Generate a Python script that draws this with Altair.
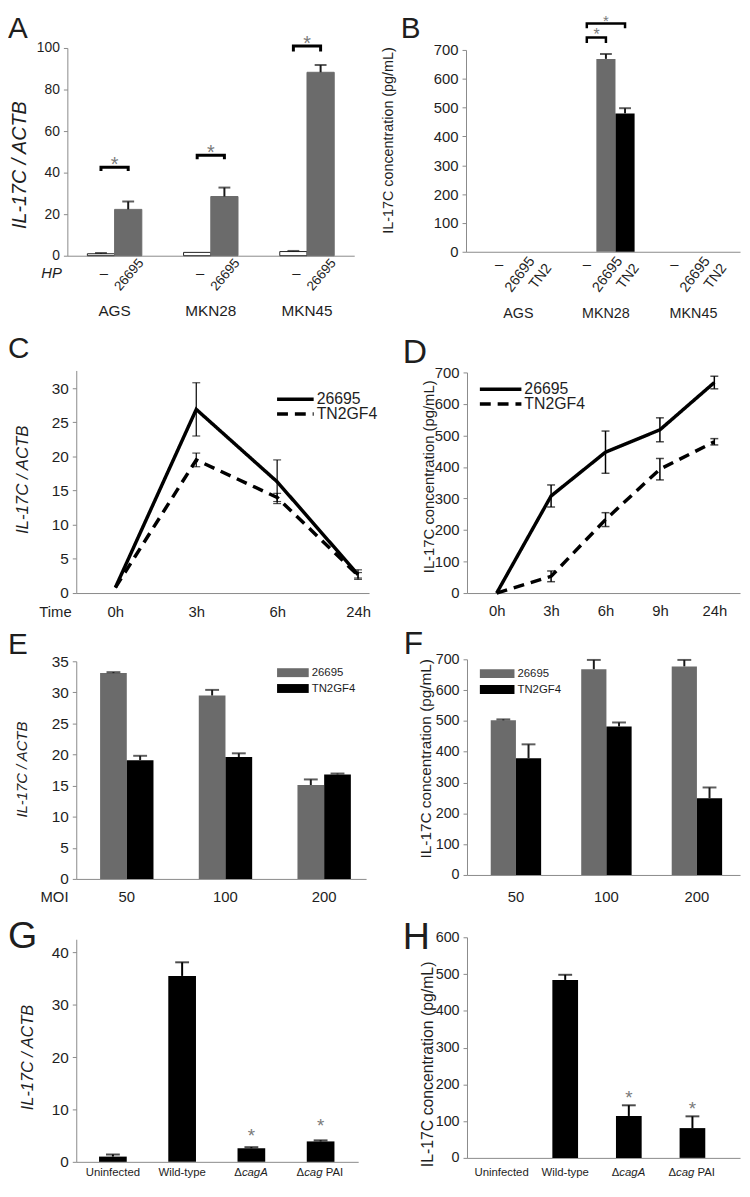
import altair as alt
import pandas as pd

FONT = "Liberation Sans"
AXC = "#8a8a8a"
TXT = "#1e1e1e"
GRAY = "#6b6b6b"
STARC = "#7a7a7a"
W, H = 742, 1177

# ---------------- data ----------------
# A
a_cells = ["AGS", "MKN28", "MKN45"]
a_hp = ["–", "26695"]
a_mock = [0.95, 1.6, 2.0]
a_mock_err = [0.35, 0.0, 0.3]
a_inf = [22.3, 28.5, 88.3]
a_inf_err = [3.8, 4.3, 3.5]
a_br_top = [42.6, 48.4, 100.9]
a_br_leg = [40.8, 46.4, 98.3]
a_star = [46.1, 51.9, 104.1]

# B
b_cells = ["AGS", "MKN28", "MKN45"]
b_strains = ["–", "26695", "TN2"]
b_mock = [0, 0, 0]
b_wt = [0, 669, 0]
b_wt_err = [0, 17, 0]
b_tn = [0, 480, 0]
b_tn_err = [0, 18, 0]
b_br_to = ["26695", "TN2"]
b_br_top = [743, 792]
b_br_leg = [724, 775]
b_star = [766, 813]

# C
c_times = ["0h", "3h", "6h", "24h"]
c_strains = ["26695", "TN2GF4"]
c_wt = [0.8, 26.9, 16.3, 2.7]
c_wt_err = [0, 3.9, 3.2, 0.7]
c_tn = [0.8, 19.5, 14.0, 2.6]
c_tn_err = [0, 1.0, 0.6, 0.4]

# D
d_times = ["0h", "3h", "6h", "9h", "24h"]
d_wt = [0, 308, 447, 518, 668]
d_wt_err = [0, 35, 67, 38, 20]
d_tn = [0, 53, 233, 393, 480]
d_tn_err = [0, 17, 22, 34, 10]

# E
e_moi = ["50", "100", "200"]
e_wt = [33.1, 29.5, 15.1]
e_wt_err = [0.15, 0.9, 0.9]
e_tn = [19.1, 19.6, 16.8]
e_tn_err = [0.7, 0.6, 0.15]

# F
f_moi = ["50", "100", "200"]
f_wt = [502, 668, 677]
f_wt_err = [3, 30, 21]
f_tn = [379, 482, 249]
f_tn_err = [45, 13, 35]

# G / H
g_strains = ["Uninfected", "Wild-type", "ΔcagA", "Δcag PAI"]
g_val = [1.0, 35.5, 2.6, 3.9]
g_err = [0.4, 2.6, 0.2, 0.2]
g_star = [5.8, 7.7]
h_val = [0, 484, 114, 81]
h_err = [0, 14, 29, 32]
h_star = [177, 145]
star_at = ["ΔcagA", "Δcag PAI"]


# ---------------- helpers ----------------
def yaxis(x_px, values, title, tsize, italic, tx, ty, lsize):
    return alt.Axis(orient="left", offset=-x_px, values=values, title=title,
                    titleFont=FONT, titleFontSize=tsize,
                    titleFontStyle="italic" if italic else "normal",
                    titleFontWeight="normal", titleColor=TXT, titleAngle=270,
                    titleAlign="center", titleBaseline="middle", titleX=tx, titleY=ty,
                    labelFont=FONT, labelFontSize=lsize, labelColor=TXT, labelPadding=4,
                    tickSize=4, tickColor=AXC, domainColor=AXC, grid=False,
                    labelFlush=False, labelOverlap=False)


def xaxis(y_px, pad, lsize, expr=None):
    kw = dict(orient="bottom", offset=y_px - H, ticks=False, title=None,
              labelFont=FONT, labelFontSize=lsize, labelColor=TXT, labelPadding=pad,
              labelBaseline="middle", labelAngle=0, domainColor=AXC, grid=False,
              labelFlush=False, labelOverlap=False)
    if expr:
        kw["labelExpr"] = expr
    return alt.Axis(**kw)


def note(text, x, y, size, align="left", baseline="alphabetic", style="normal", color=TXT, angle=0):
    kw = dict(font=FONT, fontSize=size, align=align, baseline=baseline, fontStyle=style, color=color)
    if angle:
        kw["angle"] = angle
    return alt.Chart(pd.DataFrame({"t": [text]})).mark_text(**kw).encode(
        text="t:N", x=alt.value(x), y=alt.value(y))


def legend_line(x1, x2, y, dash):
    return alt.Chart(pd.DataFrame({"k": [0]})).mark_rule(strokeWidth=3.5, color="black", strokeDash=dash).encode(
        x=alt.value(x1), x2=alt.value(x2), y=alt.value(y))


def legend_box(x1, x2, y1, y2, color):
    return alt.Chart(pd.DataFrame({"k": [0]})).mark_rect(color=color).encode(
        x=alt.value(x1), x2=alt.value(x2), y=alt.value(y1), y2=alt.value(y2))


def grouped(groups, series, vals, errs):
    rows = []
    for i, g in enumerate(groups):
        for j, s in enumerate(series):
            rows.append({"g": g, "s": s, "val": vals[j][i], "err": errs[j][i]})
    df = pd.DataFrame(rows)
    df["hi"] = df["val"] + df["err"]
    return df


def err_layers(df, width=2, cap=12):
    d = df[df["err"] > 0]
    r = alt.Chart(d).mark_rule(strokeWidth=width, color="#1a1a1a").encode(
        x="g:N", xOffset="s:N", y="val:Q", y2="hi:Q")
    t = alt.Chart(d).mark_tick(size=cap, thickness=width, color="#1a1a1a").encode(
        x="g:N", xOffset="s:N", y="hi:Q")
    return [r, t]


layers = []

# ---------------- Panel A ----------------
dfA = grouped(a_cells, a_hp, [a_mock, a_inf], [a_mock_err, a_inf_err])
barsA = alt.Chart(dfA).mark_bar(strokeWidth=1).encode(
    x=alt.X("g:N", scale=alt.Scale(type="band", domain=a_cells, range=[60, 350],
                                   paddingInner=0.434, paddingOuter=0.208),
            axis=xaxis(244, 55, 15.5)),
    xOffset=alt.XOffset("s:N", scale=alt.Scale(domain=a_hp, paddingInner=0, paddingOuter=0)),
    y=alt.Y("val:Q", scale=alt.Scale(domain=[0, 100], range=[244, 34], nice=False),
            axis=yaxis(60, [0, 20, 40, 60, 80, 100], "IL-17C / ACTB", 20, True, -48, 152, 14)),
    fill=alt.Fill("s:N", scale=alt.Scale(domain=a_hp, range=["white", GRAY]), legend=None),
    stroke=alt.Stroke("s:N", scale=alt.Scale(domain=a_hp, range=["#222222", GRAY]), legend=None),
)
brA_rows = []
for i, c in enumerate(a_cells):
    brA_rows += [{"g": c, "s": a_hp[0], "v": a_br_leg[i], "o": 0},
                 {"g": c, "s": a_hp[0], "v": a_br_top[i], "o": 1},
                 {"g": c, "s": a_hp[1], "v": a_br_top[i], "o": 2},
                 {"g": c, "s": a_hp[1], "v": a_br_leg[i], "o": 3}]
brA = alt.Chart(pd.DataFrame(brA_rows)).mark_line(strokeWidth=3, color="black").encode(
    x="g:N", xOffset="s:N", y="v:Q", detail="g:N", order="o:Q")
starA = alt.Chart(pd.DataFrame({"g": a_cells, "v": a_star})).mark_text(
    text="*", font=FONT, fontSize=20, color=STARC, baseline="middle", dy=5).encode(x="g:N", y="v:Q")
dashA = alt.Chart(dfA[dfA["s"] == a_hp[0]]).mark_text(
    text="–", font=FONT, fontSize=15, color=TXT, baseline="middle", dx=3).encode(
    x="g:N", xOffset="s:N", y=alt.value(262))
rotA = alt.Chart(dfA[dfA["s"] == a_hp[1]]).mark_text(
    text="26695", font=FONT, fontSize=13.5, color=TXT, align="right", baseline="middle",
    angle=310, dx=8.4, dy=10).encode(x="g:N", xOffset="s:N", y=alt.value(249))
layers.append(alt.layer(barsA, *err_layers(dfA), brA, starA, dashA, rotA))
layers.append(note("A", 0, 24, 30))
layers.append(note("HP", 44, 262, 15, align="center", baseline="middle", style="italic"))

# ---------------- Panel B ----------------
dfB = grouped(b_cells, b_strains, [b_mock, b_wt, b_tn], [[0, 0, 0], b_wt_err, b_tn_err])
barsB = alt.Chart(dfB).mark_bar().encode(
    x=alt.X("g:N", scale=alt.Scale(type="band", domain=b_cells, range=[463, 740],
                                   paddingInner=0.345, paddingOuter=0.237, align=0.57),
            axis=xaxis(240, 62, 14.5)),
    xOffset=alt.XOffset("s:N", scale=alt.Scale(domain=b_strains, paddingInner=0, paddingOuter=0)),
    y=alt.Y("val:Q", scale=alt.Scale(domain=[0, 700], range=[240, 36], nice=False),
            axis=yaxis(463, list(range(0, 701, 100)), "IL-17C concentration (pg/mL)",
                       14.5, False, -78, 127, 15)),
    fill=alt.Fill("s:N", scale=alt.Scale(domain=b_strains, range=["white", GRAY, "black"]), legend=None),
)
brB_rows = []
for j, to in enumerate(b_br_to):
    brB_rows += [{"g": "MKN28", "s": "–", "v": b_br_leg[j], "o": 0, "k": j},
                 {"g": "MKN28", "s": "–", "v": b_br_top[j], "o": 1, "k": j},
                 {"g": "MKN28", "s": to, "v": b_br_top[j], "o": 2, "k": j},
                 {"g": "MKN28", "s": to, "v": b_br_leg[j], "o": 3, "k": j}]
brB = alt.Chart(pd.DataFrame(brB_rows)).mark_line(strokeWidth=2.5, color="black").encode(
    x="g:N", xOffset="s:N", y="v:Q", detail="k:N", order="o:Q")
starB1 = alt.Chart(pd.DataFrame({"g": ["MKN28"], "s": ["–"], "v": [b_star[0]]})).mark_text(
    text="*", font=FONT, fontSize=16, color=STARC, baseline="middle", dy=4, dx=10).encode(
    x="g:N", xOffset="s:N", y="v:Q")
starB2 = alt.Chart(pd.DataFrame({"g": ["MKN28"], "s": ["26695"], "v": [b_star[1]]})).mark_text(
    text="*", font=FONT, fontSize=15, color=STARC, baseline="middle", dy=4).encode(
    x="g:N", xOffset="s:N", y="v:Q")
dashB = alt.Chart(dfB[dfB["s"] == "–"]).mark_text(
    text="–", font=FONT, fontSize=15, color=TXT, baseline="middle").encode(
    x="g:N", xOffset="s:N", y=alt.value(252))
rotB1 = alt.Chart(dfB[dfB["s"] == "26695"]).mark_text(
    text="26695", font=FONT, fontSize=14.5, color=TXT, align="right", baseline="middle",
    angle=307, dx=8.4, dy=11.2).encode(x="g:N", xOffset="s:N", y=alt.value(247))
rotB2 = alt.Chart(dfB[dfB["s"] == "TN2"]).mark_text(
    text="TN2", font=FONT, fontSize=14.5, color=TXT, align="right", baseline="middle",
    angle=307, dx=6.9, dy=9.2).encode(x="g:N", xOffset="s:N", y=alt.value(254))
layers.append(alt.layer(barsB, *err_layers(dfB), brB, starB1, starB2, dashB, rotB1, rotB2))
layers.append(note("B", 397, 24, 30))


# ---------------- line panels C / D ----------------
def line_panel(times, wt, wt_err, tn, tn_err, xrange, pad, align, yscale, yax, xax, ew):
    rows = []
    for i, t in enumerate(times):
        rows.append({"t": t, "i": i, "s": c_strains[0], "val": wt[i], "err": wt_err[i]})
        rows.append({"t": t, "i": i, "s": c_strains[1], "val": tn[i], "err": tn_err[i]})
    df = pd.DataFrame(rows)
    df["lo"] = df["val"] - df["err"]
    df["hi"] = df["val"] + df["err"]
    line = alt.Chart(df).mark_line(strokeWidth=3.5, color="black").encode(
        x=alt.X("t:N", scale=alt.Scale(type="point", domain=times, range=xrange, padding=pad, align=align),
                axis=xax),
        y=alt.Y("val:Q", scale=yscale, axis=yax),
        strokeDash=alt.StrokeDash("s:N", scale=alt.Scale(domain=c_strains, range=[[1, 0], [11, 7]]), legend=None),
        detail="s:N", order="i:Q")
    d = df[df["err"] > 0]
    er = alt.Chart(d).mark_rule(strokeWidth=ew, color="black").encode(x="t:N", y="lo:Q", y2="hi:Q")
    c1 = alt.Chart(d).mark_tick(size=8, thickness=ew, color="black").encode(x="t:N", y="lo:Q")
    c2 = alt.Chart(d).mark_tick(size=8, thickness=ew, color="black").encode(x="t:N", y="hi:Q")
    return alt.layer(line, er, c1, c2)


layers.append(line_panel(
    c_times, c_wt, c_wt_err, c_tn, c_tn_err, [69, 365], 0.31, 0.78,
    alt.Scale(domain=[0, 32.6], range=[585, 360], nice=False),
    yaxis(69, [0, 5, 10, 15, 20, 25, 30], "IL-17C / ACTB", 17, True, -54, 470, 15.5),
    xaxis(585, 19, 15), 1.2))
layers.append(note("C", 0, 347, 30))
layers.append(note("Time", 48, 604, 15, align="center", baseline="middle"))
layers.append(legend_line(272, 309, 389, [1, 0]))
layers.append(legend_line(272, 309, 404, [11, 7]))
layers.append(note("26695", 312, 389, 16, baseline="middle"))
layers.append(note("TN2GF4", 312, 404, 16, baseline="middle"))

layers.append(line_panel(
    d_times, d_wt, d_wt_err, d_tn, d_tn_err, [464, 740], 0.509, 0.536,
    alt.Scale(domain=[0, 700], range=[585, 362], nice=False),
    yaxis(464, list(range(0, 701, 100)), "IL-17C concentration (pg/mL)", 15, False, -39, 467, 15),
    xaxis(585, 18, 15), 1.5))
layers.append(note("D", 399, 352, 34))
layers.append(legend_line(477, 519, 379, [1, 0]))
layers.append(legend_line(477, 519, 394, [11, 7]))
layers.append(note("26695", 522, 379, 16, baseline="middle"))
layers.append(note("TN2GF4", 522, 394, 16, baseline="middle"))


# ---------------- bar panels E / F ----------------
def pair_panel(groups, wt, wt_err, tn, tn_err, xrange, pi, po, al, yscale, yax, xax):
    df = grouped(groups, c_strains, [wt, tn], [wt_err, tn_err])
    bars = alt.Chart(df).mark_bar().encode(
        x=alt.X("g:N", scale=alt.Scale(type="band", domain=groups, range=xrange,
                                       paddingInner=pi, paddingOuter=po, align=al), axis=xax),
        xOffset=alt.XOffset("s:N", scale=alt.Scale(domain=c_strains, paddingInner=0, paddingOuter=0)),
        y=alt.Y("val:Q", scale=yscale, axis=yax),
        fill=alt.Fill("s:N", scale=alt.Scale(domain=c_strains, range=[GRAY, "black"]), legend=None))
    return alt.layer(bars, *err_layers(df, 2, 14))


layers.append(pair_panel(
    e_moi, e_wt, e_wt_err, e_tn, e_tn_err, [69, 362], 0.459, 0.198, 0.61,
    alt.Scale(domain=[0, 35], range=[874, 654], nice=False),
    yaxis(69, list(range(0, 36, 5)), "IL-17C / ACTB", 15, True, -55, 763, 15.5),
    xaxis(874, 18, 15)))
layers.append(note("E", 0, 647, 30))
layers.append(note("MOI", 47, 892, 15, align="center", baseline="middle"))
layers.append(legend_box(272, 304, 661, 670, GRAY))
layers.append(legend_box(272, 304, 677, 686, "black"))
layers.append(note("26695", 307, 666, 11.5, baseline="middle"))
layers.append(note("TN2GF4", 307, 682, 11.5, baseline="middle"))

layers.append(pair_panel(
    f_moi, f_wt, f_wt_err, f_tn, f_tn_err, [464, 740], 0.443, 0.23, 0.57,
    alt.Scale(domain=[0, 700], range=[870, 652], nice=False),
    yaxis(464, list(range(0, 701, 100)), "IL-17C concentration (pg/mL)", 15.5, False, -42, 752, 14.5),
    xaxis(870, 22, 15)))
layers.append(note("F", 400, 647, 32))
layers.append(legend_box(477, 512, 662, 671, GRAY))
layers.append(legend_box(477, 512, 678, 687, "black"))
layers.append(note("26695", 515, 667, 11.5, baseline="middle"))
layers.append(note("TN2GF4", 515, 683, 11.5, baseline="middle"))

# ---------------- mutant panels G / H ----------------
EXPR = "indexof(datum.label, 'Δ') == 0 ? '' : datum.label"


def mutant_panel(vals, errs, stars, xrange, pi, po, al, yscale, yax, xax, label_y):
    df = pd.DataFrame({"g": g_strains, "val": vals, "err": errs})
    df["hi"] = df["val"] + df["err"]
    bars = alt.Chart(df).mark_bar(color="black").encode(
        x=alt.X("g:N", scale=alt.Scale(type="band", domain=g_strains, range=xrange,
                                       paddingInner=pi, paddingOuter=po, align=al), axis=xax),
        y=alt.Y("val:Q", scale=yscale, axis=yax))
    d = df[df["err"] > 0]
    er = alt.Chart(d).mark_rule(strokeWidth=2, color="black").encode(x="g:N", y="val:Q", y2="hi:Q")
    cap = alt.Chart(d).mark_tick(size=14, thickness=2, color="black").encode(x="g:N", y="hi:Q")
    st = alt.Chart(pd.DataFrame({"g": star_at, "v": stars})).mark_text(
        text="*", font=FONT, fontSize=19, color=STARC, baseline="middle", dy=5).encode(x="g:N", y="v:Q")
    base = dict(font=FONT, fontSize=11.5, color=TXT, baseline="middle")
    l1 = alt.Chart(pd.DataFrame({"g": star_at})).mark_text(text="Δ", align="right", dx=-9.6, **base).encode(
        x="g:N", y=alt.value(label_y)).transform_filter(alt.datum.g == star_at[0])
    l2 = alt.Chart(pd.DataFrame({"g": star_at})).mark_text(text="cagA", align="left", dx=-9.6,
                                                          fontStyle="italic", **base).encode(
        x="g:N", y=alt.value(label_y)).transform_filter(alt.datum.g == star_at[0])
    l3 = alt.Chart(pd.DataFrame({"g": star_at})).mark_text(text="Δ", align="right", dx=-16.6, **base).encode(
        x="g:N", y=alt.value(label_y)).transform_filter(alt.datum.g == star_at[1])
    l4 = alt.Chart(pd.DataFrame({"g": star_at})).mark_text(text="cag", align="left", dx=-16.6,
                                                          fontStyle="italic", **base).encode(
        x="g:N", y=alt.value(label_y)).transform_filter(alt.datum.g == star_at[1])
    l5 = alt.Chart(pd.DataFrame({"g": star_at})).mark_text(text="PAI", align="left", dx=5.1, **base).encode(
        x="g:N", y=alt.value(label_y)).transform_filter(alt.datum.g == star_at[1])
    return alt.layer(bars, er, cap, st, l1, l2, l3, l4, l5)


layers.append(mutant_panel(
    g_val, g_err, g_star, [69, 354], 0.6, 0.336, 0.49,
    alt.Scale(domain=[0, 42.5], range=[1160, 935], nice=False),
    yaxis(69, [0, 10, 20, 30, 40], "IL-17C / ACTB", 16.5, True, -49, 1054, 15.5),
    xaxis(1160, 11, 11.5, EXPR), 1171))
layers.append(note("G", 0, 944, 38))

layers.append(mutant_panel(
    h_val, h_err, h_star, [464, 740], 0.596, 0.444, 0.385,
    alt.Scale(domain=[0, 600], range=[1156, 933], nice=False),
    yaxis(464, list(range(0, 601, 100)), "IL-17C concentration (pg/mL)", 16, False, -40, 1061, 14.5),
    xaxis(1156, 15, 11.5, EXPR), 1171))
layers.append(note("H", 399, 945, 38))

chart = alt.layer(*layers).resolve_scale(
    x="independent", y="independent", xOffset="independent",
    fill="independent", stroke="independent", strokeDash="independent"
).resolve_axis(x="independent", y="independent").properties(
    width=W, height=H, autosize=alt.AutoSizeParams(type="none"), padding=0
).configure_view(stroke=None)

chart.save("out.html", embed_options={"renderer": "svg", "actions": False})
